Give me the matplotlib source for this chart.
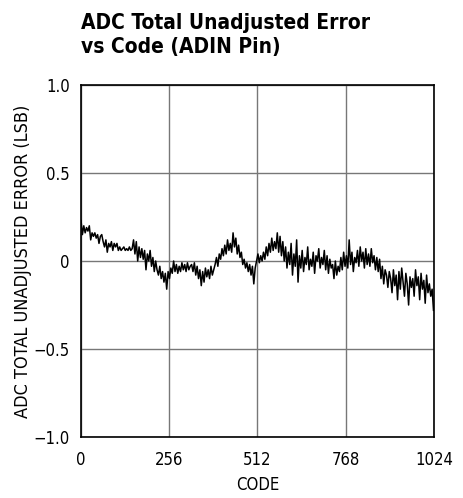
import numpy as np
import matplotlib
matplotlib.use("Agg")
import matplotlib.pyplot as plt

plt.rcParams['font.family'] = ['DejaVu Sans']
plt.rcParams['font.stretch'] = 'condensed'

codes_step = 4
err_lsb = [
    0.23, 0.15, 0.20, 0.16, 0.19, 0.17, 0.20, 0.12, 0.16, 0.14, 0.16, 0.13, 0.15, 0.10, 0.14, 0.15,
    0.11, 0.08, 0.12, 0.05, 0.10, 0.08, 0.11, 0.06, 0.10, 0.08, 0.10, 0.06, 0.08, 0.06, 0.07, 0.08,
    0.06, 0.07, 0.06, 0.08, 0.06, 0.07, 0.12, 0.04, 0.11, 0.00, 0.08, 0.02, 0.07, 0.01, 0.06, -0.05,
    0.04, 0.00, 0.06, -0.03, 0.02, -0.06, 0.00, -0.05, -0.08, -0.03, -0.10, -0.06, -0.12, -0.07, -0.16, -0.06,
    -0.10, -0.04, -0.07, 0.00, -0.06, -0.02, -0.07, -0.03, -0.06, -0.01, -0.05, -0.02, -0.06, -0.01, -0.05, -0.03,
    -0.02, -0.06, -0.01, -0.08, -0.03, -0.10, -0.05, -0.14, -0.06, -0.12, -0.04, -0.09, -0.05, -0.10, -0.03, -0.08,
    -0.05, -0.02, 0.02, -0.03, 0.04, 0.01, 0.07, 0.03, 0.09, 0.04, 0.12, 0.06, 0.10, 0.05, 0.16, 0.08,
    0.13, 0.04, 0.09, 0.02, 0.05, -0.02, 0.01, -0.04, -0.01, -0.06, -0.02, -0.08, -0.03, -0.13, -0.04, 0.00,
    0.04, -0.01, 0.03, 0.00, 0.05, 0.01, 0.08, 0.03, 0.10, 0.05, 0.13, 0.06, 0.11, 0.07, 0.16, 0.05,
    0.14, 0.03, 0.11, 0.00, 0.08, -0.04, 0.05, -0.02, 0.10, -0.08, 0.04, -0.03, 0.12, -0.12, 0.03, -0.04,
    0.06, -0.06, 0.02, -0.02, 0.08, -0.05, 0.01, -0.03, 0.05, -0.07, 0.03, 0.00, 0.07, -0.04, 0.02, -0.02,
    0.06, -0.05, 0.03, -0.07, 0.01, -0.04, -0.02, -0.10, 0.00, -0.08, -0.03, -0.06, 0.02, -0.05, 0.05, -0.03,
    0.03, -0.04, 0.12, -0.02, 0.05, -0.06, 0.02, -0.01, 0.06, -0.03, 0.08, 0.00, 0.05, -0.04, 0.07, -0.02,
    0.04, -0.03, 0.07, -0.01, 0.03, -0.05, 0.02, -0.06, 0.01, -0.10, -0.03, -0.13, -0.05, -0.08, -0.15, -0.06,
    -0.10, -0.18, -0.05, -0.14, -0.08, -0.22, -0.06, -0.16, -0.04, -0.12, -0.20, -0.07, -0.13, -0.25, -0.09, -0.15,
    -0.10, -0.20, -0.05, -0.14, -0.09, -0.22, -0.07, -0.16, -0.11, -0.24, -0.08, -0.18, -0.13, -0.20, -0.16, -0.28,
]
codes = np.arange(len(err_lsb)) * codes_step
codes = codes * (1023 / codes[-1])

x_ticks = [0, 256, 512, 768, 1024]
x_tick_labels = ['0', '256', '512', '768', '1024']
y_ticks = [1.0, 0.5, 0.0, -0.5, -1.0]
y_tick_labels = ['1.0', '0.5', '0', '\u22120.5', '\u22121.0']

fig = plt.figure(figsize=(4.64, 4.98), dpi=100)
ax = fig.add_axes([0.1746, 0.1225, 0.7604, 0.7068])

ax.plot(codes, err_lsb, color='black', linewidth=1.1)
ax.set_xlim(0, 1024)
ax.set_ylim(-1.0, 1.0)
ax.set_xticks(x_ticks)
ax.set_xticklabels(x_tick_labels)
ax.set_yticks(y_ticks)
ax.set_yticklabels(y_tick_labels)
ax.tick_params(length=0, labelsize=12)
ax.tick_params(axis='x', pad=10)
ax.tick_params(axis='y', pad=8)
ax.grid(True, color='#777777', linewidth=1.0)
ax.set_axisbelow(True)
for s in ax.spines.values():
    s.set_linewidth(1.2)
    s.set_color('black')

ax.set_xlabel('CODE', fontsize=12, labelpad=5)
ax.set_ylabel('ADC TOTAL UNADJUSTED ERROR (LSB)', fontsize=13, va='center')
ax.yaxis.set_label_coords(-0.164, 0.5)

fig.text(0.1746, 0.973, 'ADC Total Unadjusted Error\nvs Code (ADIN Pin)',
         fontsize=15, fontweight='bold', va='top', ha='left', linespacing=1.25)

fig.savefig('out.png', dpi=100)
